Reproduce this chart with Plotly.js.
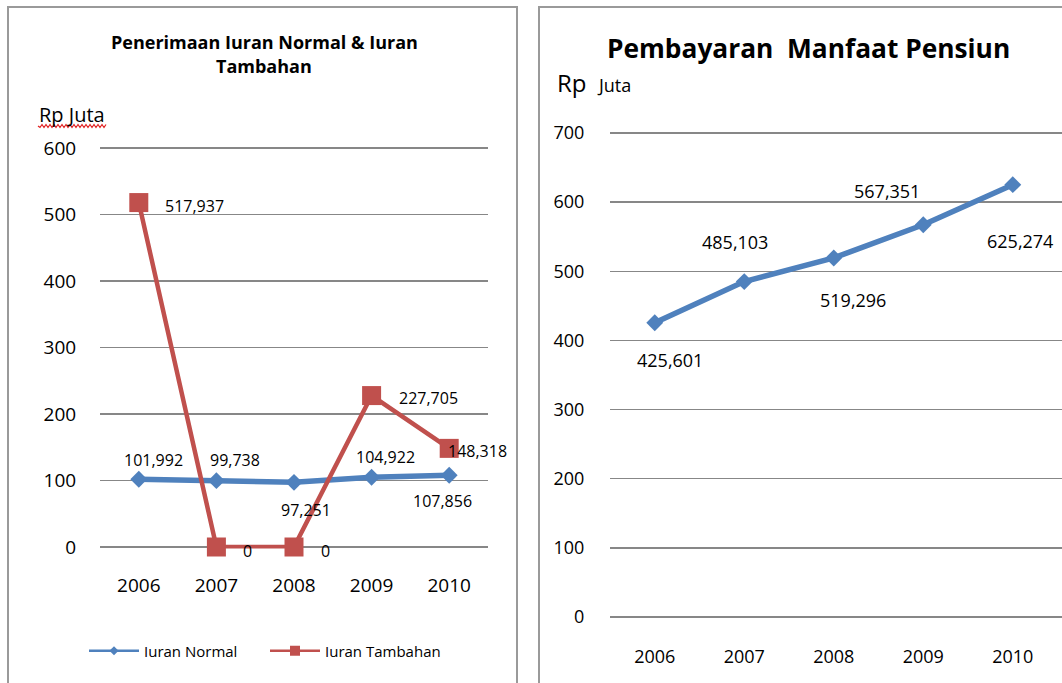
<!DOCTYPE html>
<html>
<head>
<meta charset="utf-8">
<script src="https://cdn.plot.ly/plotly-3.0.1.min.js"></script>
<style>
  html, body { margin: 0; padding: 0; background: #ffffff; }
  #chart { width: 1062px; height: 683px; }
</style>
</head>
<body>
<div id="chart"></div>
<script>
// ---- data ----
const categories = ['2006', '2007', '2008', '2009', '2010'];
const iuranNormal = [101.992, 99.738, 97.251, 104.922, 107.856];
const iuranTambahan = [517.937, 0, 0, 227.705, 148.318];
const pembayaranManfaat = [425.601, 485.103, 519.296, 567.351, 625.274];
const leftTickValues = [0, 100, 200, 300, 400, 500, 600];
const rightTickValues = [0, 100, 200, 300, 400, 500, 600, 700];

// ---- label placement (screen px offsets: dx right, dy down) ----
const normalLabelOffsets = [[15, -19], [19, -21], [12, 28], [14, -20], [-7, 26]];
const tambahanLabelOffsets = [[56, 3], [31, 4], [31, 4], [57, 2], [28, 3]];
const manfaatLabelOffsets = [[15, 37], [-9, -40], [19, 42], [-36, -34], [7, 56]];

const W = 1062, H = 683;
const px = x => x / W;
const py = y => 1 - y / H;

const BLUE = '#4F81BD';
const RED = '#C0504D';
const GRID = '#878787';
const FONT = 'Open Sans, Noto Sans, sans-serif';

function fmt(v) {
  return v === 0 ? '0' : v.toFixed(3).replace('.', ',');
}

const xIdx = categories.map((c, i) => i);

const traces = [
  {
    x: categories, y: iuranNormal, xaxis: 'x', yaxis: 'y',
    type: 'scatter', mode: 'lines+markers', name: 'Iuran Normal',
    line: { color: BLUE, width: 5.5 },
    marker: { symbol: 'diamond', size: 13, color: BLUE },
    cliponaxis: false, showlegend: false, hoverinfo: 'skip'
  },
  {
    x: categories, y: iuranTambahan, xaxis: 'x', yaxis: 'y',
    type: 'scatter', mode: 'lines+markers', name: 'Iuran Tambahan',
    line: { color: RED, width: 4.5 },
    marker: { symbol: 'square', size: 19, color: RED },
    cliponaxis: false, showlegend: false, hoverinfo: 'skip'
  },
  // legend entries (no drawn points)
  {
    x: [categories[0]], y: [null], xaxis: 'x', yaxis: 'y',
    type: 'scatter', mode: 'lines+markers', name: 'Iuran Normal',
    line: { color: BLUE, width: 2.5 },
    marker: { symbol: 'diamond', size: 7, color: BLUE }, hoverinfo: 'skip'
  },
  {
    x: [categories[0]], y: [null], xaxis: 'x', yaxis: 'y',
    type: 'scatter', mode: 'lines+markers', name: 'Iuran Tambahan',
    line: { color: RED, width: 2.5 },
    marker: { symbol: 'square', size: 10, color: RED }, hoverinfo: 'skip'
  },
  {
    x: categories, y: pembayaranManfaat, xaxis: 'x2', yaxis: 'y2',
    type: 'scatter', mode: 'lines+markers', name: 'Pembayaran Manfaat Pensiun',
    line: { color: BLUE, width: 5.5 },
    marker: { symbol: 'diamond', size: 13, color: BLUE },
    cliponaxis: false, showlegend: false, hoverinfo: 'skip'
  }
];

const annotations = [];

function addLabels(values, offsets, xref, yref, size) {
  values.forEach((v, i) => {
    annotations.push({
      x: xIdx[i], y: v, xref: xref, yref: yref,
      text: fmt(v), showarrow: false,
      xanchor: 'center', yanchor: 'middle',
      xshift: offsets[i][0], yshift: -offsets[i][1],
      font: { family: FONT, size: size, color: '#000000' }
    });
  });
}
addLabels(iuranNormal, normalLabelOffsets, 'x', 'y', 16);
addLabels(iuranTambahan, tambahanLabelOffsets, 'x', 'y', 16);
addLabels(pembayaranManfaat, manfaatLabelOffsets, 'x2', 'y2', 18);

// titles and unit labels
annotations.push(
  { xref: 'paper', yref: 'paper', x: px(264), y: py(42), text: '<b>Penerimaan Iuran Normal &amp; Iuran</b>',
    showarrow: false, xanchor: 'center', yanchor: 'middle', font: { family: FONT, size: 18, color: '#000' } },
  { xref: 'paper', yref: 'paper', x: px(264), y: py(66), text: '<b>Tambahan</b>',
    showarrow: false, xanchor: 'center', yanchor: 'middle', font: { family: FONT, size: 18, color: '#000' } },
  { xref: 'paper', yref: 'paper', x: px(37), y: py(114), text: 'Rp Juta',
    showarrow: false, xanchor: 'left', yanchor: 'middle', font: { family: FONT, size: 20, color: '#000' } },
  { xref: 'paper', yref: 'paper', x: px(808), y: py(48), text: '<b>Pembayaran  Manfaat Pensiun</b>',
    showarrow: false, xanchor: 'center', yanchor: 'middle', font: { family: FONT, size: 26.3, color: '#000' } },
  { xref: 'paper', yref: 'paper', x: px(555), y: py(82),
    text: 'Rp  <span style="font-size:18px">Juta</span>',
    showarrow: false, xanchor: 'left', yanchor: 'middle', font: { family: FONT, size: 24, color: '#000' } }
);

// spell-check style wavy underline under left "Rp Juta"
let wave = `M${px(38)},${py(126)}`;
for (let x = 40; x <= 106; x += 2) {
  wave += ` L${px(x)},${py((x / 2) % 2 ? 124.5 : 127.5)}`;
}

const shapes = [
  { type: 'rect', xref: 'paper', yref: 'paper', x0: px(8), x1: px(517), y0: py(7), y1: py(700),
    line: { color: '#9a9a9a', width: 2 }, fillcolor: 'rgba(0,0,0,0)', layer: 'below' },
  { type: 'rect', xref: 'paper', yref: 'paper', x0: px(539), x1: px(1090), y0: py(7), y1: py(700),
    line: { color: '#9a9a9a', width: 2 }, fillcolor: 'rgba(0,0,0,0)', layer: 'below' },
  { type: 'path', xref: 'paper', yref: 'paper', path: wave, line: { color: '#e02020', width: 1.2 } }
];

const axisFont = { family: FONT, color: '#000' };

// small range padding so the boundary gridlines (0 and max) are drawn
const LPAD = 600 / 399 * 1.5;
const RPAD = 700 / 484 * 1.5;

const layout = {
  width: W, height: H,
  margin: { l: 0, r: 0, t: 0, b: 0, pad: 0 },
  paper_bgcolor: '#ffffff', plot_bgcolor: 'rgba(0,0,0,0)',
  showlegend: true,
  legend: {
    orientation: 'h', x: px(84), y: py(651), xanchor: 'left', yanchor: 'middle',
    font: { family: FONT, size: 15, color: '#000' },
    itemwidth: 50,
    entrywidth: 116, entrywidthmode: 'pixels',
    bgcolor: 'rgba(0,0,0,0)', itemclick: false, itemdoubleclick: false
  },
  xaxis: {
    domain: [px(100), px(488)], anchor: 'y', type: 'category',
    range: [-0.5, 4.5], showgrid: false, zeroline: false, showline: false,
    ticks: 'outside', ticklen: 20, tickcolor: 'rgba(0,0,0,0)',
    tickfont: Object.assign({ size: 19 }, axisFont), fixedrange: true
  },
  yaxis: {
    domain: [py(548.5), py(146.5)], anchor: 'x',
    range: [-LPAD, 600 + LPAD], tickvals: leftTickValues, ticktext: leftTickValues.map(String),
    showgrid: true, gridcolor: GRID, gridwidth: 1.3, zeroline: false, showline: false,
    ticks: 'outside', ticklen: 19, tickcolor: 'rgba(0,0,0,0)',
    tickfont: Object.assign({ size: 19 }, axisFont), fixedrange: true
  },
  xaxis2: {
    domain: [px(610), 1], anchor: 'y2', type: 'category',
    range: [-0.5, 4.55], showgrid: false, zeroline: false, showline: false,
    ticks: 'outside', ticklen: 22, tickcolor: 'rgba(0,0,0,0)',
    tickfont: Object.assign({ size: 18 }, axisFont), fixedrange: true
  },
  yaxis2: {
    domain: [py(618.5), py(131.5)], anchor: 'x2',
    range: [-RPAD, 700 + RPAD], tickvals: rightTickValues, ticktext: rightTickValues.map(String),
    showgrid: true, gridcolor: GRID, gridwidth: 1.3, zeroline: false, showline: false,
    ticks: 'outside', ticklen: 21, tickcolor: 'rgba(0,0,0,0)',
    tickfont: Object.assign({ size: 18 }, axisFont), fixedrange: true
  },
  annotations: annotations,
  shapes: shapes
};

Plotly.newPlot('chart', traces, layout, { displayModeBar: false, staticPlot: true });
</script>
</body>
</html>
